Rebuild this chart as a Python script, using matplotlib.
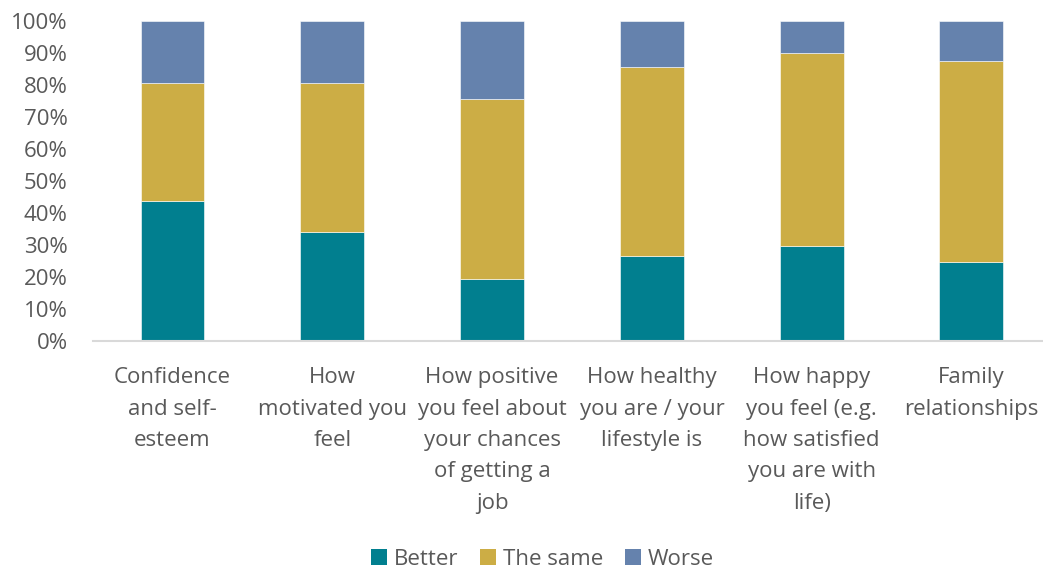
import numpy as np
import matplotlib.pyplot as plt
from matplotlib.patches import Patch
from matplotlib.ticker import PercentFormatter

plt.rcParams['font.family'] = ['Open Sans', 'DejaVu Sans']

# Survey outcome shares (fraction of respondents) per aspect
categories = ["Confidence\nand self-\nesteem",
              "How\nmotivated you\nfeel",
              "How positive\nyou feel about\nyour chances\nof getting a\njob",
              "How healthy\nyou are / your\nlifestyle is",
              "How happy\nyou feel (e.g.\nhow satisfied\nyou are with\nlife)",
              "Family\nrelationships"]
better = [0.438, 0.339, 0.192, 0.266, 0.297, 0.247]
same = [0.367, 0.465, 0.563, 0.588, 0.602, 0.627]
worse = [0.195, 0.196, 0.245, 0.146, 0.101, 0.126]

series = ["Better", "The same", "Worse"]
colors = ["#017F8F", "#CCAD45", "#6582AD"]
text_color = "#595959"

fig = plt.figure(figsize=(10.43, 5.71), dpi=100)
ax = fig.add_axes([0.0888, 0.4033, 0.9192, 0.5604])

x = np.arange(len(categories))
bottom = np.zeros(len(categories))
for values, color in zip([better, same, worse], colors):
    ax.bar(x, values, width=0.4, bottom=bottom, color=color,
           edgecolor="white", linewidth=0.4)
    bottom += np.array(values)

ax.set_xlim(-0.5, len(categories) - 0.5)
ax.set_ylim(0, 1)
ax.set_yticks(np.linspace(0, 1, 11))
ax.yaxis.set_major_formatter(PercentFormatter(1.0, decimals=0))
ax.set_xticks(x)
ax.set_xticklabels(categories, linespacing=1.65)

ax.tick_params(axis="both", length=0, labelsize=16, colors=text_color)
ax.tick_params(axis="y", pad=18)
ax.tick_params(axis="x", pad=19)

for side in ["top", "right", "left"]:
    ax.spines[side].set_visible(False)
ax.spines["bottom"].set_color("#D9D9D9")
ax.spines["bottom"].set_linewidth(1.5)

handles = [Patch(facecolor=c, edgecolor="none") for c in colors]
fig.legend(handles, series, loc="center", bbox_to_anchor=(0.52, 0.021),
           ncol=3, frameon=False, fontsize=16, labelcolor=text_color,
           handlelength=0.7, handleheight=0.7, handletextpad=0.3,
           columnspacing=1.0)

fig.savefig("out.png", dpi=100)
